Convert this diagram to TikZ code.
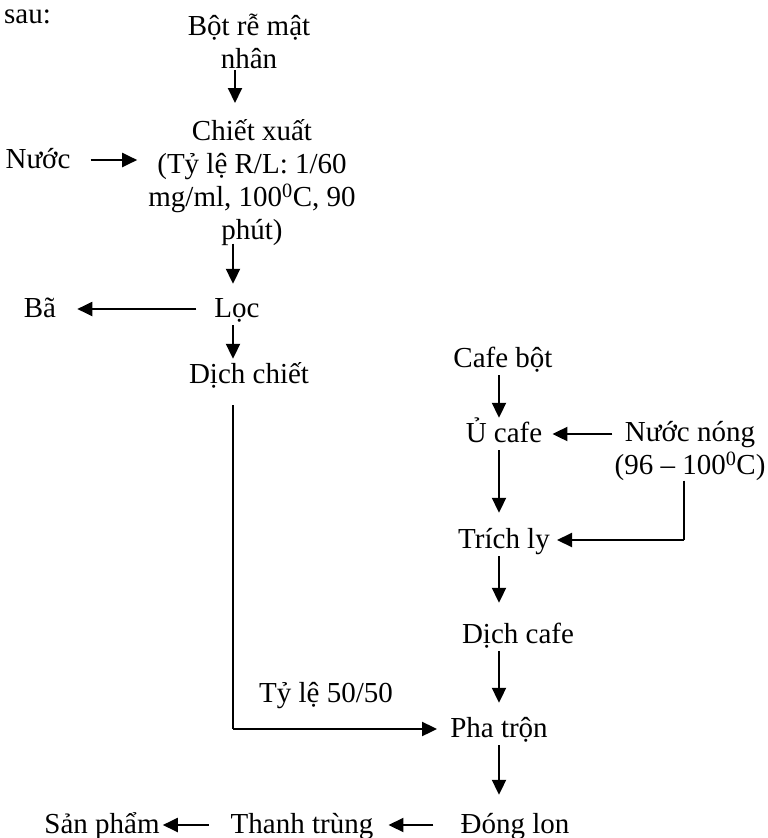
\documentclass[tikz,border=0pt]{standalone}
\usepackage{fontspec}
\setmainfont{Liberation Serif}
\usetikzlibrary{arrows.meta}
\begin{document}
\begin{tikzpicture}[x=1pt,y=-1pt,
  lbl/.style={inner sep=0pt, text height=24pt, text depth=8pt, font=\fontsize{29}{33}\selectfont},
  ml/.style={inner sep=0pt, align=center, font=\fontsize{29}{33}\selectfont},
  arr/.style={line width=2pt, -{Triangle[length=15pt,width=14pt]}},
  ln/.style={line width=2pt}]
\useasboundingbox (0,0) rectangle (768,838);
\coordinate (c1) at (233,0);
\coordinate (c2) at (499,0);
% left column
\node[inner sep=0pt, font=\fontsize{29}{33}\selectfont, anchor=base west] (sau) at (4,23) {sau:};
\node[ml, anchor=north] (bot) at (249,14) {Bột rễ mật\\nhân};
\node[ml, anchor=north] (chiet) at (252,119) {Chiết xuất\\(Tỷ lệ R/L: 1/60\\mg/ml, 100\textsuperscript{0}C, 90\\phút)};
\node[lbl, anchor=base] (nuoc) at (38,168) {Nước};
\node[lbl, anchor=base] (loc) at (237,317) {Lọc};
\node[lbl, anchor=base] (ba) at (40,317) {Bã};
\node[lbl, anchor=base] (dich) at (249,383) {Dịch chiết};
% right column
\node[lbl, anchor=base] (cafe) at (503,367) {Cafe bột};
\node[lbl, anchor=base] (u) at (504,442) {Ủ cafe};
\node[ml, anchor=north] (nn) at (690,421) {Nước nóng\\(96 – 100\textsuperscript{0}C)};
\node[lbl, anchor=base] (trich) at (504,548) {Trích ly};
\node[lbl, anchor=base] (dcafe) at (518,643) {Dịch cafe};
\node[lbl, anchor=base] (tyle) at (326,702) {Tỷ lệ 50/50};
\node[lbl, anchor=base] (pha) at (499,737) {Pha trộn};
\node[lbl, anchor=base] (dong) at (515,833) {Đóng lon};
\node[lbl, anchor=base] (thanh) at (302,833) {Thanh trùng};
\node[lbl, anchor=base] (sp) at (102,833) {Sản phẩm};
% connectors
\draw[arr, shorten <=1pt, shorten >=16pt] ([xshift=2pt]bot.south -| c1) -- ([xshift=2pt]chiet.north -| c1);
\draw[arr, shorten <=20pt, shorten >=11pt] (nuoc.east) -- (nuoc.east -| chiet.west);
\draw[arr, shorten <=-2pt, shorten >=9pt] (chiet.south -| c1) -- (loc.north -| c1);
\draw[arr, shorten <=18pt, shorten >=21pt] (loc.west) -- (ba.east);
\draw[arr] (loc.south -| c1) -- (dich.north -| c1);
\draw[ln, shorten <=14pt] (dich.south -| c1) -- (c1 |- pha.west);
\draw[arr, shorten >=13pt] (c1 |- pha.west) -- (pha.west);
\draw[arr] (cafe.south -| c2) -- (u.north -| c2);
\draw[arr, shorten <=2pt, shorten >=10pt] (u.east -| nn.west) -- (u.east);
\draw[arr, shorten >=11pt] (u.south -| c2) -- (trich.north -| c2);
\draw[ln] ([xshift=-6pt]nn.south) -- ([xshift=-6pt]nn.south |- trich.east);
\draw[arr, shorten >=7pt] ([xshift=-6pt]nn.south |- trich.east) -- (trich.east);
\draw[arr, shorten >=16pt] (trich.south -| c2) -- (dcafe.north -| c2);
\draw[arr, shorten >=10pt] (dcafe.south -| c2) -- (pha.north -| c2);
\draw[arr, shorten >=14pt] (pha.south -| c2) -- (dong.north -| c2);
\draw[arr, shorten <=27pt, shorten >=15pt] (dong.west) -- (thanh.east);
\draw[arr, shorten <=22pt, shorten >=3pt] (thanh.west) -- (sp.east);
\end{tikzpicture}
\end{document}
